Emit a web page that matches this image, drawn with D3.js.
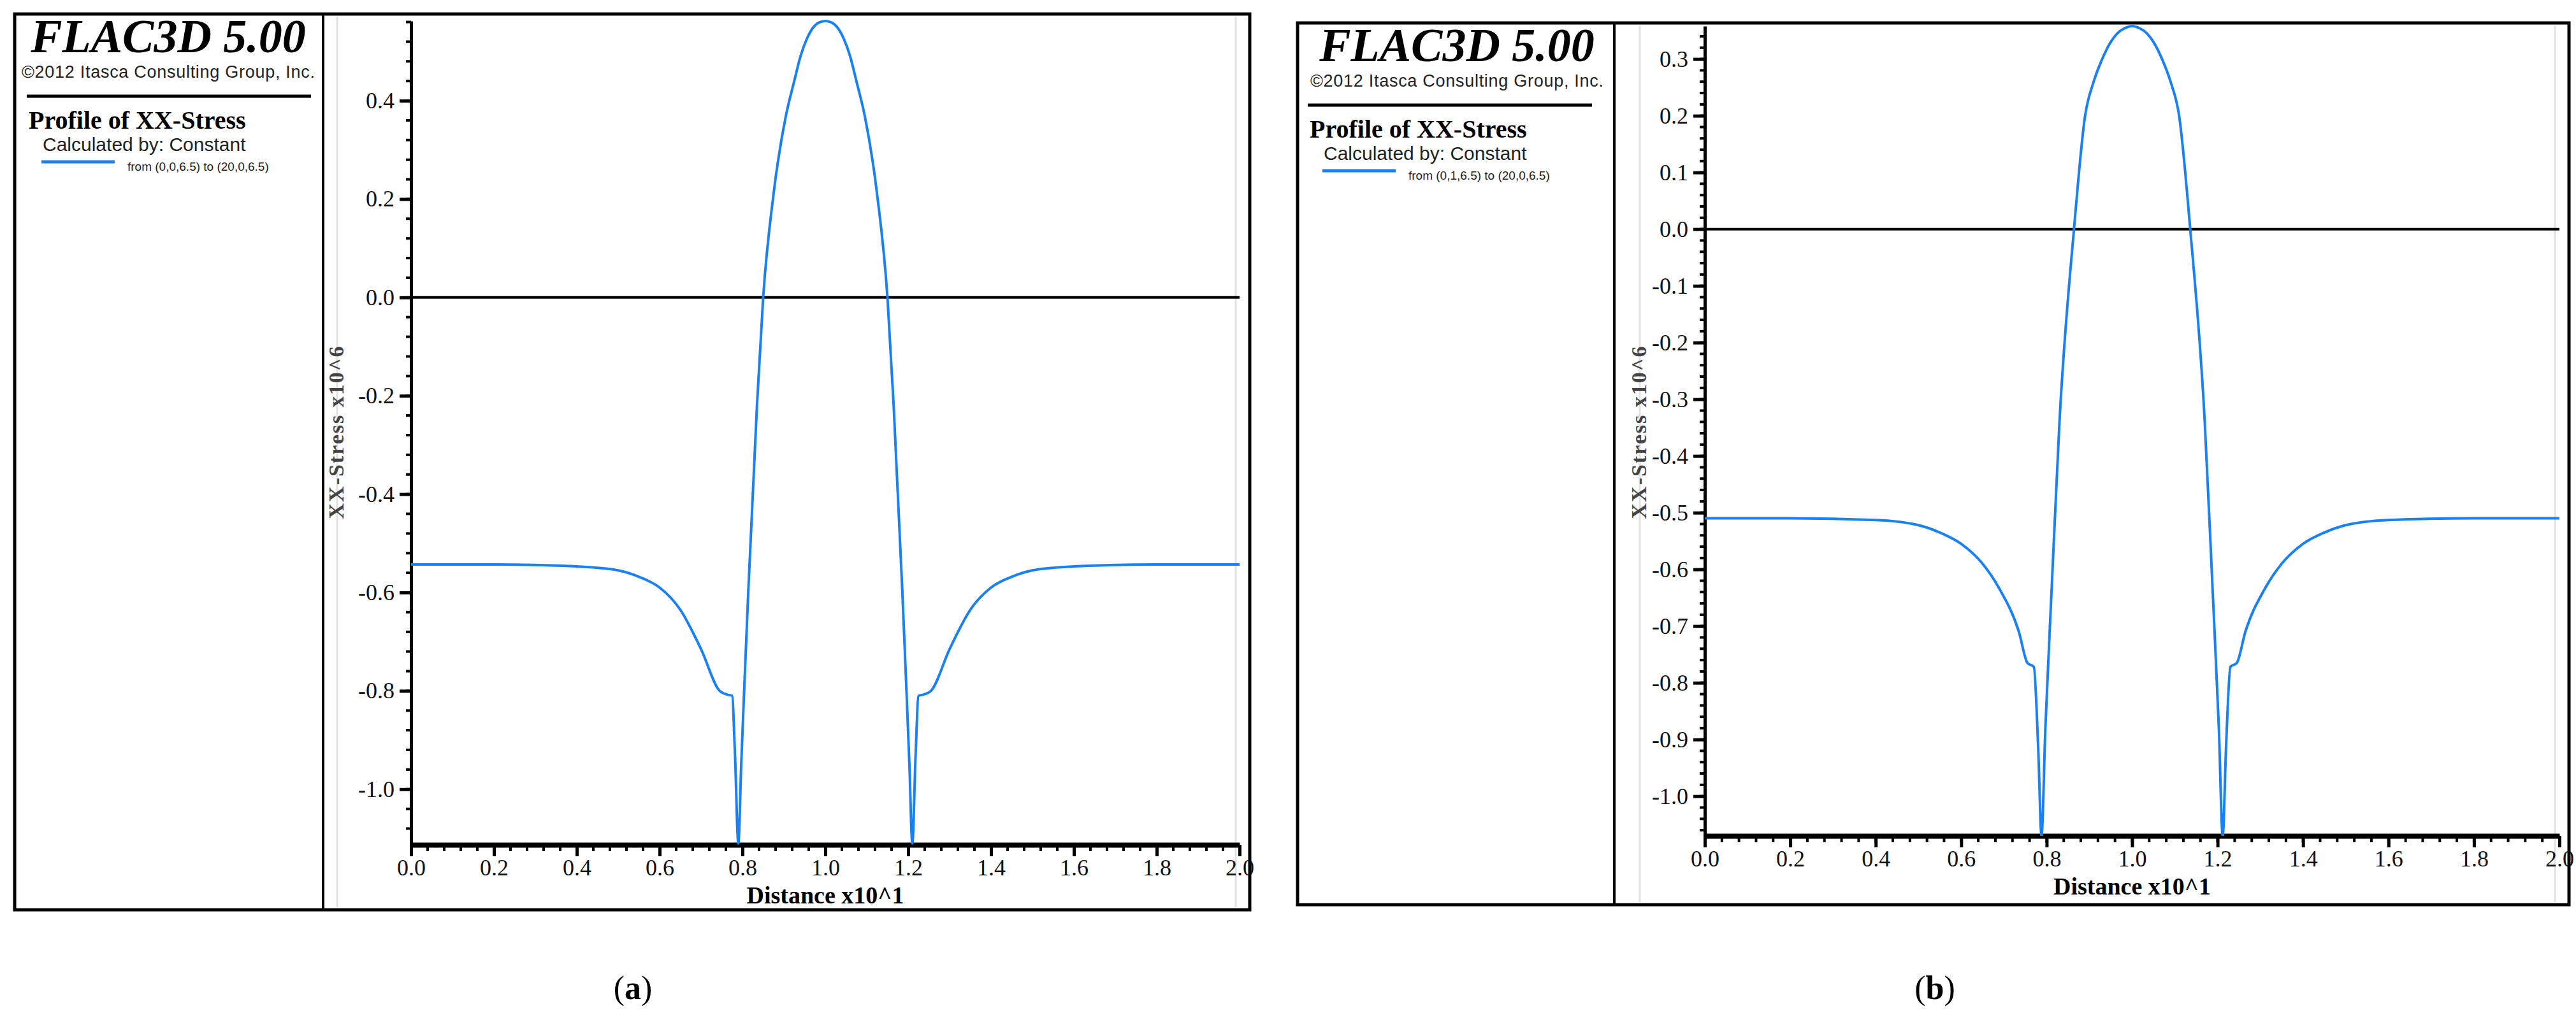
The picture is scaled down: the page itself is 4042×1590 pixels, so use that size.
<!DOCTYPE html>
<html>
<head>
<meta charset="utf-8">
<script src="https://cdn.jsdelivr.net/npm/d3@7"></script>
<style>
  body { margin: 0; background: #fff; }
</style>
</head>
<body>
<div id="chart"></div>
<script>
// ---- data ----
const distA = [0, 0.1, 0.2, 0.3, 0.4, 0.5, 0.55, 0.6, 0.65, 0.7, 0.745, 0.765, 0.775, 0.782, 0.79, 0.797, 0.805, 0.815, 0.835, 0.85, 0.875, 0.905, 0.925, 0.94, 0.955, 0.97, 0.985, 1.0,
  1.015, 1.03, 1.045, 1.06, 1.075, 1.095, 1.125, 1.15, 1.165, 1.185, 1.195, 1.203, 1.21, 1.218, 1.225, 1.235, 1.255, 1.3, 1.35, 1.4, 1.45, 1.5, 1.6, 1.7, 1.8, 1.9, 2.0];
const stressA = [-0.543, -0.543, -0.543, -0.544, -0.547, -0.555, -0.568, -0.59, -0.635, -0.715, -0.8, -0.808, -0.81, -0.93, -1.11, -0.95, -0.78, -0.58, -0.22, 0, 0.21, 0.37, 0.44, 0.49, 0.525, 0.548, 0.559, 0.562,
  0.559, 0.548, 0.525, 0.49, 0.44, 0.37, 0.21, 0, -0.22, -0.58, -0.78, -0.95, -1.11, -0.93, -0.81, -0.808, -0.8, -0.715, -0.635, -0.59, -0.568, -0.555, -0.547, -0.544, -0.543, -0.543, -0.543];

const distB = [0, 0.2, 0.4, 0.5, 0.55, 0.6, 0.65, 0.69, 0.735, 0.755, 0.77, 0.78, 0.788, 0.797, 0.812, 0.83, 0.864, 0.89, 0.91, 0.93, 0.95, 0.965, 0.982, 1.0,
  1.018, 1.035, 1.05, 1.07, 1.09, 1.11, 1.136, 1.17, 1.188, 1.203, 1.212, 1.22, 1.23, 1.245, 1.265, 1.31, 1.35, 1.4, 1.45, 1.5, 1.6, 1.8, 2.0];
const stressB = [-0.51, -0.51, -0.513, -0.522, -0.535, -0.555, -0.59, -0.635, -0.71, -0.765, -0.772, -0.91, -1.07, -0.88, -0.63, -0.34, 0, 0.2, 0.26, 0.30, 0.33, 0.345, 0.354, 0.358,
  0.354, 0.345, 0.33, 0.30, 0.26, 0.2, 0, -0.34, -0.63, -0.88, -1.07, -0.91, -0.772, -0.765, -0.71, -0.635, -0.59, -0.555, -0.535, -0.522, -0.513, -0.51, -0.51];

const xTicks = [0, 0.2, 0.4, 0.6, 0.8, 1.0, 1.2, 1.4, 1.6, 1.8, 2.0];
const yTicksA = [0.4, 0.2, 0.0, -0.2, -0.4, -0.6, -0.8, -1.0];
const yTicksB = [0.3, 0.2, 0.1, 0.0, -0.1, -0.2, -0.3, -0.4, -0.5, -0.6, -0.7, -0.8, -0.9, -1.0];

const panels = [
  { frame: [23, 22, 1961, 1428], divider: 507, gray: 529, xr: [645, 1945], yd: [-1.113, 0.562], yr: [1326, 33],
    xs: distA, ys: stressA, yTicks: yTicksA, yMinor: 0.04, xMinor: 0.04, head: 264, headY: 82, left: 45,
    from: "from (0,0,6.5) to (20,0,6.5)", cap: "a" },
  { frame: [2036, 36, 4031, 1420], divider: 2533, gray: 2573, xr: [2675, 4016], yd: [-1.07, 0.358], yr: [1312, 41],
    xs: distB, ys: stressB, yTicks: yTicksB, yMinor: 0.02, xMinor: 0.04, head: 2286, headY: 96, left: 2055,
    from: "from (0,1,6.5) to (20,0,6.5)", cap: "b" }
];

const svg = d3.select("#chart").append("svg")
  .attr("width", 4042).attr("height", 1590);

panels.forEach((p, i) => {
  const g = svg.append("g");
  const [fx0, fy0, fx1, fy1] = p.frame;

  // outer frame and divider
  g.append("rect").attr("x", fx0).attr("y", fy0).attr("width", fx1 - fx0).attr("height", fy1 - fy0)
    .attr("fill", "#fff").attr("stroke", "#000").attr("stroke-width", 5);
  g.append("line").attr("x1", p.divider).attr("x2", p.divider).attr("y1", fy0).attr("y2", fy1)
    .attr("stroke", "#000").attr("stroke-width", 4);
  g.append("line").attr("x1", p.gray).attr("x2", p.gray).attr("y1", fy0 + 4).attr("y2", fy1 - 4)
    .attr("stroke", "#e2e2e2").attr("stroke-width", 3);
  g.append("line").attr("x1", fx1 - 22).attr("x2", fx1 - 22).attr("y1", fy0 + 4).attr("y2", fy1 - 4)
    .attr("stroke", "#e2e2e2").attr("stroke-width", 3);

  // header block
  g.append("text").attr("x", p.head).attr("y", p.headY).attr("text-anchor", "middle")
    .style("font", "italic bold 74px 'Liberation Serif'").text("FLAC3D 5.00");
  g.append("text").attr("x", p.head).attr("y", p.headY + 40).attr("text-anchor", "middle")
    .attr("textLength", 460).style("font", "27px 'Liberation Sans'").attr("fill", "#222")
    .text("©2012 Itasca Consulting Group, Inc.");
  g.append("line").attr("x1", p.left - 3).attr("x2", p.left + 443).attr("y1", p.headY + 69).attr("y2", p.headY + 69)
    .attr("stroke", "#000").attr("stroke-width", 5);
  g.append("text").attr("x", p.left).attr("y", p.headY + 120)
    .style("font", "bold 40px 'Liberation Serif'").text("Profile of XX-Stress");
  g.append("text").attr("x", p.left + 22).attr("y", p.headY + 155)
    .style("font", "30px 'Liberation Sans'").attr("fill", "#222").text("Calculated by: Constant");
  g.append("line").attr("x1", p.left + 20).attr("x2", p.left + 135).attr("y1", p.headY + 172).attr("y2", p.headY + 172)
    .attr("stroke", "#1a80f5").attr("stroke-width", 5);
  g.append("text").attr("x", p.left + 155).attr("y", p.headY + 186)
    .style("font", "19px 'Liberation Sans'").attr("fill", "#222").text(p.from);

  // scales
  const x = d3.scaleLinear().domain([0, 2]).range(p.xr);
  const y = d3.scaleLinear().domain(p.yd).range(p.yr);

  // minor ticks
  const yMin = d3.range(Math.ceil(p.yd[0] / p.yMinor) * p.yMinor, p.yd[1], p.yMinor);
  g.selectAll(".ym").data(yMin).join("line")
    .attr("x1", p.xr[0] - 8).attr("x2", p.xr[0]).attr("y1", d => y(d)).attr("y2", d => y(d))
    .attr("stroke", "#000").attr("stroke-width", 4);
  const xMin = d3.range(0, 2.0001, p.xMinor);
  g.selectAll(".xm").data(xMin).join("line")
    .attr("x1", d => x(d)).attr("x2", d => x(d)).attr("y1", p.yr[0]).attr("y2", p.yr[0] + 10)
    .attr("stroke", "#000").attr("stroke-width", 4);

  // y axis
  const yAxis = g.append("g").attr("transform", `translate(${p.xr[0]},0)`)
    .call(d3.axisLeft(y).tickValues(p.yTicks).tickFormat(d3.format(".1f")).tickSize(18).tickSizeOuter(0).tickPadding(8));
  yAxis.select(".domain").attr("stroke-width", 5);
  yAxis.selectAll(".tick line").attr("stroke-width", 5);
  yAxis.selectAll("text").style("font", "36px 'Liberation Serif'").attr("fill", "#111")
    .text(d => d3.format(".1f")(d).replace("−", "-"));

  // x axis
  const xAxis = g.append("g").attr("transform", `translate(0,${p.yr[0]})`)
    .call(d3.axisBottom(x).tickValues(xTicks).tickFormat(d3.format(".1f")).tickSize(18).tickSizeOuter(0).tickPadding(4));
  xAxis.select(".domain").attr("stroke-width", 8);
  xAxis.selectAll(".tick line").attr("stroke-width", 5);
  xAxis.selectAll("text").style("font", "36px 'Liberation Serif'").attr("fill", "#111");

  // zero line
  g.append("line").attr("x1", x(0)).attr("x2", x(2)).attr("y1", y(0)).attr("y2", y(0))
    .attr("stroke", "#000").attr("stroke-width", 4);

  // profile curve
  g.append("clipPath").attr("id", "clip" + i).append("rect")
    .attr("x", p.xr[0]).attr("y", 0).attr("width", p.xr[1] - p.xr[0]).attr("height", p.yr[0]);
  g.append("path").datum(p.xs.map((d, j) => [d, p.ys[j]]))
    .attr("clip-path", `url(#clip${i})`)
    .attr("fill", "none").attr("stroke", "#1a80f5").attr("stroke-width", 4)
    .attr("d", d3.line().curve(d3.curveMonotoneX).x(d => x(d[0])).y(d => y(d[1])));

  // axis titles
  g.append("text").attr("x", (p.xr[0] + p.xr[1]) / 2).attr("y", p.yr[0] + 92).attr("text-anchor", "middle")
    .style("font", "bold 38px 'Liberation Serif'").text("Distance x10^1");
  g.append("text").attr("transform", `translate(${p.gray + 10},${678}) rotate(-90)`).attr("text-anchor", "middle")
    .style("font", "bold 34px 'Liberation Serif'").attr("letter-spacing", 2).attr("fill", "#444").text("XX-Stress x10^6");

  // caption
  g.append("text").attr("x", i === 0 ? 993 : 3036).attr("y", 1568).attr("text-anchor", "middle")
    .style("font", "52px 'Liberation Serif'")
    .call(t => { t.append("tspan").text("("); t.append("tspan").attr("font-weight", "bold").text(p.cap); t.append("tspan").text(")"); });
});
</script>
</body>
</html>
